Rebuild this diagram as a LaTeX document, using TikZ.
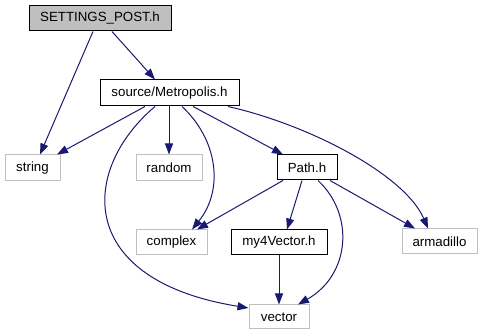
\documentclass[tikz,border=0pt]{standalone}
\usepackage{fontspec}
\setmainfont{Liberation Sans}
\usetikzlibrary{arrows.meta}
\definecolor{edgeblue}{HTML}{191970}
\definecolor{sysgray}{HTML}{BFBFBF}
\definecolor{rootfill}{HTML}{BFBFBF}
\begin{document}
\begin{tikzpicture}[x=1pt,y=-1pt,
  hdr/.style={draw=black,line width=1pt,fill=white,rectangle,inner sep=0pt,
    font=\fontsize{13.3}{15}\selectfont,text=black},
  sys/.style={hdr,draw=sysgray},
  root/.style={hdr,fill=rootfill},
  dep/.style={draw=edgeblue,line width=1pt,
    -{Triangle[length=11pt,width=8pt,fill=edgeblue]}}]
\useasboundingbox (0,0) rectangle (482,336);
% header nodes
\node[root,minimum width=142pt,minimum height=25pt] (set) at (100,18.5) {SETTINGS\_POST.h};
\node[hdr,minimum width=139pt,minimum height=26pt] (met) at (169.5,93) {source/Metropolis.h};
\node[sys,minimum width=55pt,minimum height=26pt] (str) at (32.5,168) {string};
\node[sys,minimum width=66pt,minimum height=26pt] (rnd) at (169,168) {random};
\node[hdr,minimum width=60pt,minimum height=25pt] (path) at (307,167.5) {Path.h};
\node[sys,minimum width=71pt,minimum height=25pt] (cpx) at (171.5,242.5) {complex};
\node[hdr,minimum width=96pt,minimum height=25pt] (my4) at (279,242.5) {my4Vector.h};
\node[sys,minimum width=75pt,minimum height=25pt] (arm) at (439.5,241.5) {armadillo};
\node[sys,minimum width=60pt,minimum height=24pt] (vec) at (279,317) {vector};
% include edges
\draw[dep] ([xshift=-7pt]set.south) -- ([xshift=7.5pt]str.north);
\draw[dep] ([xshift=12pt]set.south) -- ([xshift=-14.5pt]met.north);
\draw[dep] ([xshift=-24.5pt]met.south) -- ([xshift=24.5pt]str.north);
\draw[dep] ([xshift=-14.5pt]met.south) .. controls (80,170) and (75,280) .. ([yshift=9pt]vec.west);
\draw[dep] ([xshift=-0.5pt]met.south) -- (rnd.north);
\draw[dep] ([xshift=12.5pt]met.south) .. controls (218,140) and (224,190) .. ([xshift=20.5pt]cpx.north);
\draw[dep] ([xshift=23.5pt]met.south) -- ([xshift=-24pt]path.north);
\draw[dep] ([xshift=58.5pt]met.south) .. controls (310,125) and (405,175) .. ([xshift=-11.5pt]arm.north);
\draw[dep] ([xshift=-24pt]path.south) -- ([xshift=25.5pt]cpx.north);
\draw[dep] ([xshift=-5pt]path.south) -- ([xshift=8pt]my4.north);
\draw[dep] ([xshift=11pt]path.south) .. controls (355,215) and (350,275) .. ([xshift=19pt]vec.north);
\draw[dep] ([xshift=23pt]path.south) -- ([xshift=-24.5pt]arm.north);
\draw[dep] (my4.south) -- (vec.north);
\end{tikzpicture}
\end{document}
